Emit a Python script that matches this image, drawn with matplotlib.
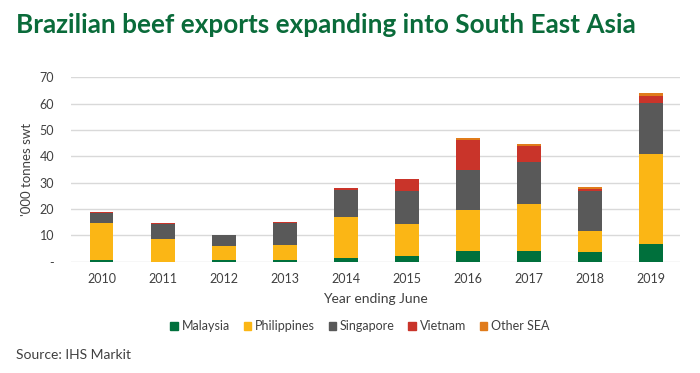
import numpy as np
import matplotlib
matplotlib.use("Agg")
import matplotlib.pyplot as plt
from matplotlib.patches import Patch

plt.rcParams['font.family'] = ['Lato', 'DejaVu Sans']

# ==========================================
# Data ('000 tonnes swt)
# ==========================================
years = ['2010', '2011', '2012', '2013', '2014', '2015', '2016', '2017', '2018', '2019']
malaysia    = [0.7, 0.0, 0.6, 0.6, 1.4, 2.2, 3.9, 3.9, 3.7, 6.6]
philippines = [13.9, 8.6, 5.5, 5.9, 15.5, 12.1, 15.9, 17.9, 7.8, 34.4]
singapore   = [3.9, 5.9, 3.9, 8.2, 10.5, 12.5, 15.2, 16.1, 15.4, 19.2]
vietnam     = [0.4, 0.2, 0.1, 0.2, 0.6, 4.6, 11.3, 6.1, 0.6, 2.8]
other_sea   = [0.0, 0.0, 0.0, 0.0, 0.1, 0.1, 0.5, 0.8, 0.9, 0.9]

series = [
    ('Malaysia', malaysia, '#00703c'),
    ('Philippines', philippines, '#fbb615'),
    ('Singapore', singapore, '#595959'),
    ('Vietnam', vietnam, '#c9342a'),
    ('Other SEA', other_sea, '#e07b1b'),
]

W, H = 700, 373
fig = plt.figure(figsize=(W / 100, H / 100), dpi=100)
ax = fig.add_axes([71 / W, 1 - 261.7 / H, (680 - 71) / W, (261.7 - 77.3) / H])

x = np.arange(len(years))
bottom = np.zeros(len(years))
for name, vals, col in series:
    vals = np.array(vals)
    ax.bar(x, vals, width=0.39, bottom=bottom, color=col, label=name, zorder=3)
    bottom += vals

ax.set_xlim(-0.5, 9.47)
ax.set_ylim(0, 70)
ax.set_yticks(range(0, 71, 10))
ax.set_yticklabels(['-'] + [str(v) for v in range(10, 71, 10)], fontsize=9, color='#404040')
ax.set_xticks(x)
ax.set_xticklabels(years, fontsize=9, color='#404040')
ax.tick_params(length=0, pad=8)
ax.tick_params(axis='y', pad=12)
ax.grid(axis='y', color='#d9d9d9', linewidth=1, zorder=0)
for s in ax.spines.values():
    s.set_visible(False)

ax.set_ylabel("'000 tonnes swt", fontsize=9.5, color='#404040', labelpad=5)
ax.set_xlabel('Year ending June', fontsize=10, color='#404040', labelpad=6)

handles = [Patch(color=c, label=n) for n, _, c in series]
fig.legend(handles=handles, loc='center', bbox_to_anchor=(360 / W, 1 - 326 / H),
           ncol=5, frameon=False, fontsize=9, handlelength=0.6, handleheight=0.6,
           handletextpad=0.3, columnspacing=1.1, labelcolor='#404040')

fig.text(16 / W, 1 - 25 / H, 'Brazilian beef exports expanding into South East Asia',
         fontsize=18.8, fontweight='bold', color='#0a6b3a', va='center', ha='left')
fig.text(16 / W, 1 - 355 / H, 'Source: IHS Markit', fontsize=10, color='#404040',
         va='center', ha='left')

fig.savefig('out.png', dpi=100)
